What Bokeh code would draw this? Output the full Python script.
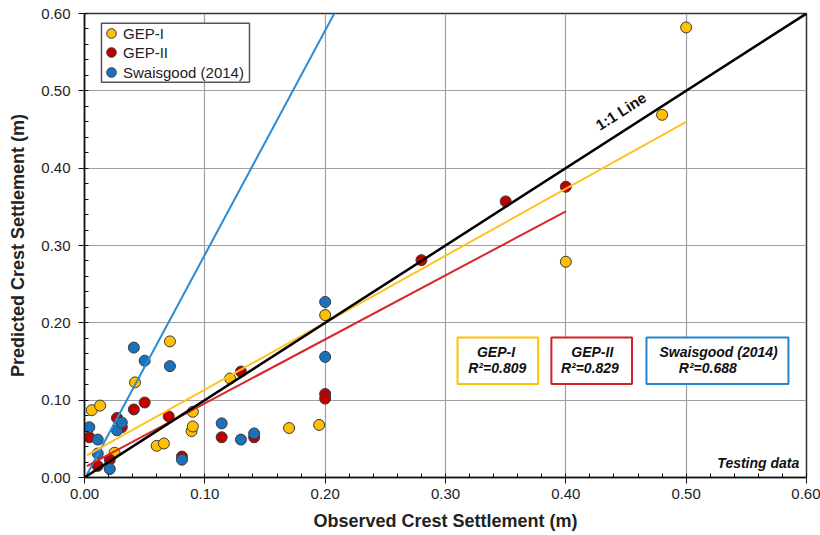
import numpy as np
from bokeh.plotting import figure
from bokeh.models import (Legend, LegendItem, BoxAnnotation, Label, FixedTicker,
                          NumeralTickFormatter, Range1d)
from bokeh.embed import file_html
from bokeh.resources import INLINE

# ---- data ----
gep1_obs = [0.500, 0.480, 0.400, 0.200, 0.121, 0.071, 0.042, 0.006, 0.013, 0.025,
            0.060, 0.066, 0.090, 0.089, 0.090, 0.170, 0.195]
gep1_pred = [0.582, 0.469, 0.279, 0.210, 0.128, 0.176, 0.123, 0.087, 0.093, 0.032,
             0.041, 0.044, 0.085, 0.060, 0.066, 0.064, 0.068]

gep2_obs = [0.400, 0.350, 0.280, 0.200, 0.200, 0.130, 0.050, 0.041, 0.027, 0.031,
            0.004, 0.011, 0.021, 0.070, 0.081, 0.114, 0.141]
gep2_pred = [0.376, 0.357, 0.281, 0.108, 0.102, 0.137, 0.097, 0.088, 0.077, 0.065,
             0.052, 0.015, 0.023, 0.079, 0.027, 0.052, 0.052]

swa_obs = [0.200, 0.200, 0.041, 0.050, 0.071, 0.004, 0.011, 0.011, 0.021, 0.027,
           0.031, 0.081, 0.114, 0.130, 0.141]
swa_pred = [0.227, 0.156, 0.168, 0.151, 0.144, 0.065, 0.049, 0.031, 0.011, 0.061,
            0.071, 0.023, 0.070, 0.049, 0.057]

# fitted trend lines: (slope, intercept, x_start, x_end)
fit_gep1 = (0.866, 0.027, 0.002, 0.500)
fit_gep2 = (0.828, 0.013, 0.002, 0.400)
fit_swa = (2.900, -0.002, 0.002, 0.210)
one_to_one = [0.0, 0.6]

series_names = ["GEP-I", "GEP-II", "Swaisgood (2014)"]
r2_values = ["0.809", "0.829", "0.688"]

FONT = "Liberation Sans"
YEL = "#FFC000"
RED = "#C00000"
BLU = "#1A72BE"

p = figure(width=820, height=535, output_backend="svg", toolbar_location=None,
           x_range=Range1d(0, 0.6), y_range=Range1d(0, 0.6),
           min_border_left=84, min_border_right=14, min_border_top=13,
           min_border_bottom=58)

p.outline_line_color = "#333333"
p.outline_line_width = 1.5
p.background_fill_color = "white"
p.border_fill_color = "white"

# grid
for g in (p.xgrid, p.ygrid):
    g.grid_line_color = "#A0A0A0"
    g.grid_line_width = 1.2

# axes
ticks = [0.0, 0.1, 0.2, 0.3, 0.4, 0.5, 0.6]
minor = [round(i * 0.02, 2) for i in range(31)]
for ax in (p.xaxis[0], p.yaxis[0]):
    ax.ticker = FixedTicker(ticks=ticks, minor_ticks=minor)
    ax.formatter = NumeralTickFormatter(format="0.00")
    ax.axis_line_color = "#111111"
    ax.axis_line_width = 1.5
    ax.major_tick_line_color = "#111111"
    ax.minor_tick_line_color = "#111111"
    ax.major_tick_out = 6
    ax.major_tick_in = 0
    ax.minor_tick_out = 0
    ax.minor_tick_in = 4
    ax.major_label_text_font = FONT
    ax.major_label_text_font_size = "15px"
    ax.major_label_text_color = "#222222"
    ax.axis_label_text_font = FONT
    ax.axis_label_text_font_size = "18px"
    ax.axis_label_text_font_style = "bold"
    ax.axis_label_text_color = "#222222"

p.xaxis.axis_label = "Observed Crest Settlement (m)"
p.yaxis.axis_label = "Predicted Crest Settlement (m)"
p.xaxis.major_label_standoff = 5
p.yaxis.major_label_standoff = 8
p.xaxis.axis_label_standoff = 9
p.yaxis.axis_label_standoff = 10

# points
r1 = p.scatter(gep1_obs, gep1_pred, size=11, fill_color=YEL, line_color="#3a3a3a", line_width=1)
r2 = p.scatter(gep2_obs, gep2_pred, size=11, fill_color=RED, line_color="#3a3a3a", line_width=1)
r3 = p.scatter(swa_obs, swa_pred, size=11, fill_color=BLU, line_color="#3a3a3a", line_width=1)

# lines
def fit_line(fit):
    m, b, x0, x1 = fit
    xs = np.array([x0, x1])
    return xs, m * xs + b

xs, ys = fit_line(fit_swa)
p.line(xs, ys, line_color="#2A8BD6", line_width=2)
xs, ys = fit_line(fit_gep2)
p.line(xs, ys, line_color="#D8262B", line_width=2)
xs, ys = fit_line(fit_gep1)
p.line(xs, ys, line_color="#FFC320", line_width=2)
p.line(one_to_one, one_to_one, line_color="black", line_width=2.5)

# legend frame (drawn as a box) + one legend entry per row
p.add_layout(BoxAnnotation(left=0.0141, right=0.1371, bottom=0.511, top=0.5875,
                           fill_color="white", fill_alpha=1,
                           line_color="#555555", line_alpha=1, line_width=1.5))
row_bottoms = [431, 412, 392]
for name, rend, yb in zip(series_names, [r1, r2, r3], row_bottoms):
    lg = Legend(items=[LegendItem(label=name, renderers=[rend])],
                location=(15, yb),
                label_text_font=FONT, label_text_font_size="15px",
                label_text_color="#222222",
                glyph_width=24, glyph_height=26, label_height=19,
                label_standoff=0, spacing=0, padding=0, margin=0,
                border_line_alpha=0, background_fill_alpha=0)
    p.add_layout(lg, "center")

# R^2 boxes
boxes = [(0.310, 0.377, YEL), (0.388, 0.455, "#D42027"), (0.467, 0.585, "#2384CF")]
for (l, r, c) in boxes:
    p.add_layout(BoxAnnotation(left=l, right=r, bottom=0.121, top=0.181,
                               fill_color="white", fill_alpha=1,
                               line_color=c, line_alpha=1, line_width=2))

lab_kw = dict(text_font=FONT, text_font_size="14px", text_font_style="bold italic",
              text_color="#111111", text_align="center", text_baseline="middle")
title_pos = [(0.342, 0.162), (0.422, 0.162), (0.527, 0.162)]
r2_pos = [(0.343, 0.141), (0.420, 0.141), (0.518, 0.141)]
for i in range(3):
    p.add_layout(Label(x=title_pos[i][0], y=title_pos[i][1], text=series_names[i], **lab_kw))
    p.add_layout(Label(x=r2_pos[i][0], y=r2_pos[i][1], text="R²=" + r2_values[i], **lab_kw))

# 1:1 label
p.add_layout(Label(x=0.452, y=0.458, text="1:1 Line", angle=32.7, angle_units="deg",
                   x_offset=-3, y_offset=5,
                   text_font=FONT, text_font_size="15px", text_font_style="bold",
                   text_color="#111111", text_align="center", text_baseline="bottom"))

# testing data label
p.add_layout(Label(x=0.594, y=0.008, text="Testing data", text_font=FONT,
                   text_font_size="14px", text_font_style="bold italic",
                   text_color="#111111", text_align="right", text_baseline="bottom"))

open("out.html", "w").write(file_html(p, INLINE))
